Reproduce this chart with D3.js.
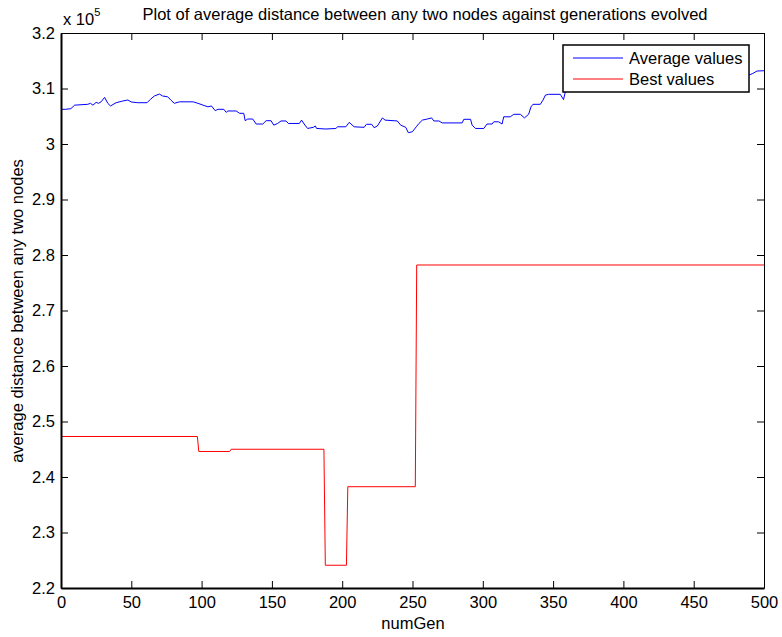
<!DOCTYPE html>
<html>
<head>
<meta charset="utf-8">
<script src="https://cdn.jsdelivr.net/npm/d3@7"></script>
<style>
  html, body { margin: 0; padding: 0; background: #fff; }
  svg { display: block; font-family: "Liberation Sans", Arial, sans-serif; }
</style>
</head>
<body>
<svg id="chart" width="782" height="637"></svg>
<script>
// Generation numbers and population-average distance (x 1e5)
const avgGen = [0, 3, 7, 9.7, 19, 21, 22.7, 25, 26.7, 28.6, 31, 33.3, 35.2, 39.2, 44, 47.5, 50, 54.6, 61.2, 63.6,
  66.4, 70, 72.3, 75.9, 78.2, 80.6, 84.2, 94, 97.4, 101, 104.5, 107, 109.7, 111.6, 115.8, 117.5, 118.7, 124.6, 127, 130,
  131, 132.8, 136.4, 138.8, 143.5, 145.9, 149.4, 151.3, 154.1, 156.5, 160, 161.7, 169.5, 171.1, 173.5, 175.4, 179.4, 180.9, 181.8, 188.4,
  195.5, 196.7, 202.6, 205, 208.5, 215.6, 217.2, 221, 222.7, 225, 228.6, 230.5, 239.2, 241.6, 245.2, 247, 249.9, 252.7, 254.6, 257,
  260.5, 263.6, 265.2, 268.8, 271.1, 285.3, 286.5, 291.3, 292.4, 294.8, 300.7, 303, 306.6, 307.8, 311.3, 313.7, 314.9, 319.6, 322, 326.7,
  329.6, 332.6, 334.3, 335.7, 340.9, 342.8, 344.5, 346.8, 355.1, 357.4, 359, 370, 385, 400, 420, 440, 460, 480, 487, 490,
  492, 495, 500];
const avgVal = [3.0625, 3.0625, 3.0636, 3.070, 3.0715, 3.0733, 3.070, 3.075, 3.0733, 3.0762, 3.084, 3.0733, 3.0685, 3.0744, 3.0775, 3.0793, 3.0757, 3.0744, 3.0744, 3.0805,
  3.0865, 3.090, 3.0865, 3.085, 3.079, 3.0733, 3.076, 3.076, 3.0733, 3.070, 3.067, 3.0685, 3.060, 3.0625, 3.0625, 3.057, 3.0595, 3.0595, 3.0553, 3.0553,
  3.042, 3.045, 3.045, 3.036, 3.036, 3.042, 3.042, 3.034, 3.037, 3.0415, 3.0415, 3.037, 3.037, 3.043, 3.034, 3.028, 3.030, 3.0324, 3.028, 3.027,
  3.028, 3.031, 3.031, 3.039, 3.031, 3.030, 3.0355, 3.0355, 3.0294, 3.0324, 3.047, 3.043, 3.0415, 3.034, 3.030, 3.0204, 3.022, 3.031, 3.037, 3.043,
  3.045, 3.047, 3.0415, 3.0415, 3.038, 3.038, 3.0445, 3.0445, 3.034, 3.028, 3.028, 3.036, 3.036, 3.040, 3.040, 3.036, 3.049, 3.049, 3.0535, 3.0535,
  3.047, 3.0535, 3.067, 3.0715, 3.0715, 3.079, 3.088, 3.0895, 3.0895, 3.080, 3.097, 3.100, 3.104, 3.108, 3.112, 3.115, 3.118, 3.121, 3.124, 3.125,
  3.127, 3.1315, 3.132];

// Best individual's distance per generation (x 1e5)
const bestGen = [0, 97, 98, 120, 121, 187, 188, 203, 204, 252, 253, 500];
const bestVal = [2.473, 2.473, 2.446, 2.446, 2.450, 2.450, 2.241, 2.241, 2.3825, 2.3825, 2.782, 2.782];

const xTicks = [0, 50, 100, 150, 200, 250, 300, 350, 400, 450, 500];
const yTicks = [2.2, 2.3, 2.4, 2.5, 2.6, 2.7, 2.8, 2.9, 3.0, 3.1, 3.2];
const seriesNames = ["Average values", "Best values"];
const seriesColors = ["#0000ff", "#ff0000"];

const titleText = "Plot of average distance between any two nodes against generations evolved";
const xLabel = "numGen";
const yLabel = "average distance between any two nodes";

const FS = 16.5;
const svg = d3.select("#chart");
const m = { left: 61, right: 764, top: 33, bottom: 588 };

const x = d3.scaleLinear().domain([0, 500]).range([m.left, m.right]);
const y = d3.scaleLinear().domain([2.2, 3.2]).range([m.bottom, m.top]);

const plot = svg.append("g");

// data lines
const line = d3.line().x(d => x(d[0])).y(d => y(d[1]));
plot.append("path")
  .datum(d3.zip(avgGen, avgVal))
  .attr("fill", "none").attr("stroke", seriesColors[0]).attr("stroke-width", 1)
  .attr("d", line);
plot.append("path")
  .datum(d3.zip(bestGen, bestVal))
  .attr("fill", "none").attr("stroke", seriesColors[1]).attr("stroke-width", 1)
  .attr("d", line);

// axes with inward ticks
const tickLen = 7;
const fmtY = d => (d === 3 ? "3" : d3.format(".1f")(d));
const bottomAxis = d3.axisBottom(x).tickValues(xTicks).tickSizeInner(-tickLen).tickSizeOuter(0).tickPadding(8);
const topAxis = d3.axisTop(x).tickValues(xTicks).tickSizeInner(-tickLen).tickSizeOuter(0).tickFormat("");
const leftAxis = d3.axisLeft(y).tickValues(yTicks).tickSizeInner(-tickLen).tickSizeOuter(0).tickPadding(6).tickFormat(fmtY);
const rightAxis = d3.axisRight(y).tickValues(yTicks).tickSizeInner(-tickLen).tickSizeOuter(0).tickFormat("");

function style(g, w) {
  g.select(".domain").attr("stroke", "#000").attr("stroke-width", w);
  g.selectAll(".tick line").attr("stroke", "#000").attr("stroke-width", 1);
  g.selectAll(".tick text").attr("fill", "#000").attr("font-size", FS)
    .attr("font-family", "Liberation Sans, Arial, sans-serif");
}
svg.append("g").attr("transform", `translate(0,${m.top})`).call(topAxis).call(g => style(g, 1));
svg.append("g").attr("transform", `translate(${m.right},0)`).call(rightAxis).call(g => style(g, 1));
svg.append("g").attr("transform", `translate(0,${m.bottom})`).call(bottomAxis).call(g => style(g, 2));
svg.append("g").attr("transform", `translate(${m.left},0)`).call(leftAxis).call(g => style(g, 2));

// exponent marker
const expo = svg.append("text").attr("x", 63).attr("y", 25).attr("font-size", FS).attr("fill", "#000");
expo.append("tspan").text("x 10");
expo.append("tspan").attr("dy", -9).attr("font-size", 11).text("5");

// title and axis labels
svg.append("text").attr("x", 425).attr("y", 20).attr("text-anchor", "middle")
  .attr("font-size", FS).attr("fill", "#000").text(titleText);
svg.append("text").attr("x", 413).attr("y", 629).attr("text-anchor", "middle")
  .attr("font-size", FS).attr("fill", "#000").text(xLabel);
svg.append("text").attr("transform", `translate(23,311) rotate(-90)`)
  .attr("text-anchor", "middle").attr("font-size", FS).attr("fill", "#000").text(yLabel);

// legend
const lg = svg.append("g");
lg.append("rect").attr("x", 563).attr("y", 45).attr("width", 186).attr("height", 47)
  .attr("fill", "#fff").attr("stroke", "#000").attr("stroke-width", 1.5);
seriesNames.forEach((name, i) => {
  const yy = 58 + i * 21;
  lg.append("line").attr("x1", 573).attr("x2", 623).attr("y1", yy).attr("y2", yy)
    .attr("stroke", seriesColors[i]).attr("stroke-width", 1);
  lg.append("text").attr("x", 629).attr("y", yy + 6).attr("font-size", FS).attr("fill", "#000").text(name);
});
</script>
</body>
</html>
